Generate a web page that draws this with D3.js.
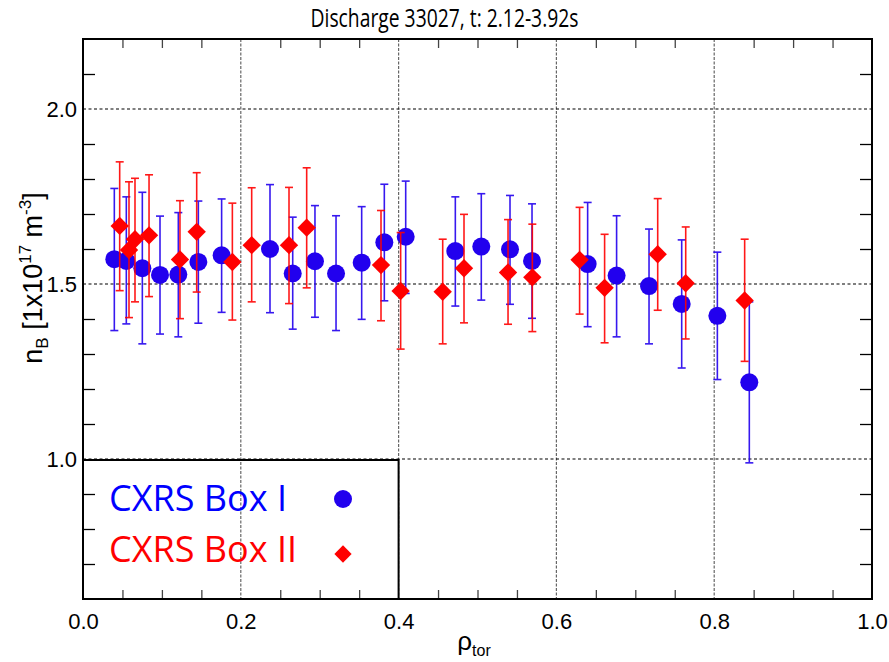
<!DOCTYPE html>
<html>
<head>
<meta charset="utf-8">
<script src="https://cdn.jsdelivr.net/npm/d3@7"></script>
<style>
  body { margin: 0; background: #fff; }
  .tk text { font-family: "Liberation Sans", Arial, sans-serif; font-size: 22px; fill: #000; }
</style>
</head>
<body>
<script>
// Box I (blue circles)
const rhoI = [0.0397, 0.0549, 0.0752, 0.0976, 0.1208, 0.1462, 0.1757, 0.237, 0.2658, 0.294, 0.3207, 0.3532,
  0.3819, 0.409, 0.4719, 0.5048, 0.5412, 0.5691, 0.6396, 0.6763, 0.7174, 0.7588, 0.804, 0.8445];
const nbI = [1.571, 1.566, 1.545, 1.526, 1.527, 1.563, 1.582, 1.600, 1.530, 1.565, 1.530, 1.561,
  1.619, 1.635, 1.594, 1.607, 1.599, 1.566, 1.557, 1.524, 1.494, 1.443, 1.409, 1.219];
const loI = [1.367, 1.386, 1.329, 1.357, 1.349, 1.388, 1.419, 1.418, 1.371, 1.405, 1.367, 1.399,
  1.452, 1.473, 1.437, 1.454, 1.442, 1.402, 1.378, 1.349, 1.329, 1.260, 1.227, 0.989];
const hiI = [1.773, 1.749, 1.762, 1.694, 1.704, 1.737, 1.743, 1.784, 1.691, 1.724, 1.695, 1.721,
  1.785, 1.794, 1.749, 1.758, 1.753, 1.729, 1.733, 1.695, 1.657, 1.626, 1.591, 1.449];

// Box II (red diamonds)
const rhoII = [0.0465, 0.0583, 0.0659, 0.0837, 0.1229, 0.1441, 0.1893, 0.2138, 0.2611, 0.2835, 0.3777,
  0.4026, 0.4559, 0.4829, 0.5387, 0.5695, 0.6294, 0.6611, 0.7284, 0.7639, 0.8386];
const nbII = [1.666, 1.597, 1.628, 1.639, 1.570, 1.649, 1.563, 1.611, 1.611, 1.661, 1.554,
  1.480, 1.478, 1.545, 1.533, 1.519, 1.569, 1.489, 1.585, 1.502, 1.453];
const loII = [1.481, 1.404, 1.449, 1.464, 1.401, 1.477, 1.397, 1.449, 1.444, 1.489, 1.395,
  1.314, 1.329, 1.389, 1.385, 1.364, 1.414, 1.332, 1.425, 1.343, 1.279];
const hiII = [1.849, 1.792, 1.802, 1.812, 1.738, 1.818, 1.731, 1.775, 1.776, 1.832, 1.710,
  1.647, 1.628, 1.699, 1.684, 1.671, 1.719, 1.642, 1.744, 1.663, 1.628];

const xMajor = [0, 0.2, 0.4, 0.6, 0.8, 1.0];
const yMajor = [1.0, 1.5, 2.0];
const xMinor = d3.range(1, 20).map(i => i * 0.05).filter(v => Math.abs(v / 0.2 - Math.round(v / 0.2)) > 1e-6);
const yMinor = d3.range(7, 22).map(i => i / 10).filter(v => Math.abs(v * 2 - Math.round(v * 2)) > 1e-6);

const W = 889, H = 662;
const L = 83, R = 872, T = 39, B = 599;

const svg = d3.select("body").append("svg")
  .attr("width", W).attr("height", H);

const x = d3.scaleLinear().domain([0, 1]).range([L, R]);
const y = d3.scaleLinear().domain([0.6, 2.2]).range([B, T]);

const blue = "#2200ee", red = "#ff0000";

// grid
svg.selectAll(".vg").data(xMajor.slice(1, -1)).enter().append("line")
  .attr("x1", d => x(d)).attr("x2", d => x(d)).attr("y1", T).attr("y2", B)
  .attr("stroke", "#666").attr("stroke-width", 1.2).attr("stroke-dasharray", "3,1.5");
svg.selectAll(".hg").data(yMajor).enter().append("line")
  .attr("x1", L).attr("x2", R).attr("y1", d => y(d)).attr("y2", d => y(d))
  .attr("stroke", "#000").attr("stroke-width", 1.2).attr("stroke-dasharray", "3,2.5");

// minor ticks on all sides
svg.append("g").attr("class", "tk").attr("transform", `translate(0,${B})`)
  .call(d3.axisBottom(x).tickValues(xMinor).tickSize(-9).tickFormat(""))
  .call(g => g.select(".domain").remove())
  .call(g => g.selectAll("line").attr("stroke", "#444").attr("stroke-width", 1.3));
svg.append("g").attr("class", "tk").attr("transform", `translate(0,${T})`)
  .call(d3.axisTop(x).tickValues(xMinor).tickSize(-9).tickFormat(""))
  .call(g => g.select(".domain").remove())
  .call(g => g.selectAll("line").attr("stroke", "#444").attr("stroke-width", 1.3));
svg.append("g").attr("class", "tk").attr("transform", `translate(${L},0)`)
  .call(d3.axisLeft(y).tickValues(yMinor).tickSize(-12).tickFormat(""))
  .call(g => g.select(".domain").remove())
  .call(g => g.selectAll("line").attr("stroke", "#000").attr("stroke-width", 1.3));
svg.append("g").attr("class", "tk").attr("transform", `translate(${R},0)`)
  .call(d3.axisRight(y).tickValues(yMinor).tickSize(-12).tickFormat(""))
  .call(g => g.select(".domain").remove())
  .call(g => g.selectAll("line").attr("stroke", "#000").attr("stroke-width", 1.3));

// tick labels
svg.append("g").attr("class", "tk").attr("transform", `translate(0,${B})`)
  .call(d3.axisBottom(x).tickValues(xMajor).tickSize(0).tickPadding(14).tickFormat(d3.format(".1f")))
  .call(g => g.select(".domain").remove());
svg.append("g").attr("class", "tk").attr("transform", `translate(${L},0)`)
  .call(d3.axisLeft(y).tickValues(yMajor).tickSize(0).tickPadding(6).tickFormat(d3.format(".1f")))
  .call(g => g.select(".domain").remove());

// frame
svg.append("rect").attr("x", L).attr("y", T).attr("width", R - L).attr("height", B - T)
  .attr("fill", "none").attr("stroke", "#000").attr("stroke-width", 2);

// error bars + markers
function errBars(rho, lo, hi, col) {
  const g = svg.append("g").attr("stroke", col).attr("stroke-width", 1.6).attr("opacity", 0.9);
  rho.forEach((r, i) => {
    g.append("line").attr("x1", x(r)).attr("x2", x(r)).attr("y1", y(lo[i])).attr("y2", y(hi[i]));
    g.append("line").attr("x1", x(r) - 4).attr("x2", x(r) + 4).attr("y1", y(lo[i])).attr("y2", y(lo[i]));
    g.append("line").attr("x1", x(r) - 4).attr("x2", x(r) + 4).attr("y1", y(hi[i])).attr("y2", y(hi[i]));
  });
}
errBars(rhoI, loI, hiI, blue);
svg.selectAll(".ptI").data(rhoI).enter().append("circle")
  .attr("cx", d => x(d)).attr("cy", (d, i) => y(nbI[i])).attr("r", 9).attr("fill", blue);
errBars(rhoII, loII, hiII, red);
const dia = d3.symbol().type(d3.symbolDiamond2).size(215);
svg.selectAll(".ptII").data(rhoII).enter().append("path")
  .attr("d", dia)
  .attr("transform", (d, i) => `translate(${x(d)},${y(nbII[i])})`)
  .attr("fill", red);

// legend
svg.append("rect").attr("x", x(0)).attr("y", 460).attr("width", x(0.4) - x(0)).attr("height", B - 460)
  .attr("fill", "none").attr("stroke", "#000").attr("stroke-width", 2);
svg.append("text").attr("x", 109).attr("y", 511).attr("fill", "#0000ff")
  .attr("font-family", "Open Sans").attr("font-size", 36)
  .attr("textLength", 178).attr("lengthAdjust", "spacingAndGlyphs").text("CXRS Box I");
svg.append("text").attr("x", 109).attr("y", 562).attr("fill", red)
  .attr("font-family", "Open Sans").attr("font-size", 36)
  .attr("textLength", 188).attr("lengthAdjust", "spacingAndGlyphs").text("CXRS Box II");
svg.append("circle").attr("cx", 343).attr("cy", 499).attr("r", 9).attr("fill", blue);
svg.append("path").attr("d", d3.symbol().type(d3.symbolDiamond2).size(190))
  .attr("transform", "translate(343,554)").attr("fill", red);

// title
svg.append("text").attr("x", W / 2).attr("y", 27).attr("text-anchor", "middle")
  .attr("font-family", "Open Sans").attr("font-size", 26)
  .attr("textLength", 268).attr("lengthAdjust", "spacingAndGlyphs")
  .text("Discharge 33027, t: 2.12-3.92s");

// axis labels
const yl = svg.append("text").attr("transform", `translate(42,278) rotate(-90)`)
  .attr("text-anchor", "middle").attr("font-family", "Liberation Sans").attr("font-size", 27);
yl.append("tspan").text("n");
yl.append("tspan").attr("font-size", 17).attr("dy", 6).text("B");
yl.append("tspan").attr("dy", -6).text(" [1x10");
yl.append("tspan").attr("font-size", 17).attr("dy", -11).text("17");
yl.append("tspan").attr("dy", 11).text(" m");
yl.append("tspan").attr("font-size", 17).attr("dy", -11).text("-3");
yl.append("tspan").attr("dy", 11).text("]");

const xl = svg.append("text").attr("x", 474).attr("y", 650)
  .attr("text-anchor", "middle").attr("font-family", "Liberation Sans").attr("font-size", 26);
xl.append("tspan").text("ρ");
xl.append("tspan").attr("font-size", 16).attr("dy", 6).text("tor");
</script>
</body>
</html>
